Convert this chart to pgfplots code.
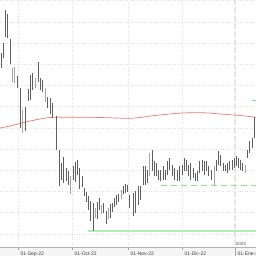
\documentclass[border=0pt]{standalone}
\usepackage{pgfplots}
\usepackage{pgfplotstable}
\pgfplotsset{compat=1.18}
\usepackage{fontspec}
\setmainfont{Liberation Sans}
\definecolor{darkbar}{RGB}{95,95,95}
\definecolor{lightbar}{RGB}{165,165,165}
\definecolor{smared}{RGB}{240,120,120}
\definecolor{grn}{RGB}{175,242,175}
\definecolor{grnd}{RGB}{140,230,140}
\definecolor{gridc}{RGB}{225,225,225}
\pgfplotstableread{
x lo hi
1 -68 -53
3 -58 -43
5.3 -37 -10
7.5 -38 -14
10 -64 -39
17 -88 -76
20 -128 -88
25 -131 -107
28 -101 -89
30 -100 -75
32.5 -90 -73
38 -82 -62
40 -90 -78
42.5 -92 -80
47.5 -108 -97
50 -114 -98
52.5 -118 -103
56.5 -150 -116
59 -186 -150
61 -180 -163
63.5 -183 -157
66 -181 -168
68 -185 -171
73 -180 -166
75.5 -182 -162
77.5 -175 -160
79.5 -189 -168
82 -187 -176
84.5 -196 -188
86.5 -202 -192
88.5 -210 -196
90.5 -221 -201
93 -231 -203
97.5 -219 -202
99.5 -210 -198
103.5 -213 -203
106 -224 -211
110 -218 -204
112.5 -212 -203
114.5 -207 -198
116.5 -205 -195
118.5 -202 -194
123 -194 -186
125 -193 -184
127.5 -192 -185
129.7 -208 -195
133 -216 -193
135.3 -213 -191
138 -205 -186
140.7 -200 -186
143 -185 -166
145.3 -185 -166
147.3 -183 -170
152 -171 -150
154 -176 -161
156.3 -176 -163
158.7 -180 -170
160.7 -181 -170
163 -180 -166
165.3 -180 -170
167.3 -175 -161
169.7 -170 -158
172 -176 -165
174.7 -180 -168
177.3 -181 -170
179.7 -181 -166
182 -175 -165
184 -171 -158
186.3 -171 -160
188.7 -176 -165
190.7 -180 -163
193 -178 -168
195.3 -181 -173
197.3 -181 -171
199.7 -173 -161
202 -171 -160
204 -175 -161
206.3 -171 -161
208.7 -176 -166
211.3 -180 -170
216.3 -171 -160
218.7 -165 -151
220.7 -166 -155
223 -171 -163
225.3 -171 -165
227.3 -173 -163
229.7 -170 -161
232 -170 -160
234 -168 -158
236.3 -166 -156
238 -168 -158
240.7 -170 -160
242.7 -171 -163
247.3 -158 -150
249.7 -153 -141
252 -148 -138
254 -138 -117
}\darkbars
\pgfplotstableread{
x lo hi
12.5 -82 -68
14.5 -83 -67
22.5 -133 -110
35 -88 -78
45 -102 -88
70.5 -194 -176
95.5 -218 -208
101.5 -214 -205
108 -219 -208
121 -199 -190
149.7 -176 -153
214 -185 -166
245.3 -173 -165
}\lightbars
\begin{document}
\begin{tikzpicture}
\fill[gray!8] (0,-9pt) rectangle (256pt,0pt);
\begin{axis}[
  at={(0,0)}, anchor=south west,
  width=256pt, height=247pt, scale only axis,
  xmin=0, xmax=256, ymin=-247, ymax=0,
  axis line style={draw=none},
  xtick={18,72,128,182,235},
  xticklabels={01-Sep-22,01-Oct-22,01-Nov-22,01-Dic-22,01-Ene-23},
  xticklabel style={anchor=north west, xshift=-1pt, yshift=1pt, font=\fontsize{5}{5}\selectfont, text=black!75},
  xtick pos=left, tick align=outside, major tick length=2.5pt,
  tick style={draw=gray!70, line width=0.5pt},
  ytick={-0.8,-22,-43.2,-64.4,-85.6,-106.8,-128,-149.2,-170.4,-191.6,-212.8,-234},
  yticklabels={}, ytick style={draw=none},
  xmajorgrids, ymajorgrids,
  grid style={gridc, dotted, line width=0.6pt},
  clip=true,
]
\coordinate (bl) at (axis cs:0,-247);
\coordinate (tr) at (axis cs:256,0);
% year separator
\addplot[gray!20, line width=1.6pt, dash pattern=on 5pt off 3pt] coordinates {(235,0) (235,-247)};
% bottom axis line
\addplot[gray!60, line width=0.6pt] coordinates {(0,-247) (256,-247)};
% support lines
\addplot[grn, line width=2pt] coordinates {(88,-231.5) (256,-231.5)};
\addplot[grnd, line width=0.8pt, dash pattern=on 6pt off 4pt] coordinates {(161,-185) (256,-185)};
% moving average
\addplot[smared, line width=0.7pt, smooth] coordinates {
(0,-128) (10,-126) (20,-123.5) (30,-121) (40,-119) (50,-117.5) (60,-117.3) (90,-117.3) (110,-117.8) (128,-118.3) (140,-117.5) (150,-116) (160,-115) (175,-113.5) (190,-112.7) (205,-112.8) (220,-114) (240,-115.5) (256,-117.3)};
% bars
\addplot[draw=none, mark=none, error bars/.cd, y dir=plus, y explicit, error mark=none,
  error bar style={line width=0.85pt, color=lightbar}]
  table[x=x, y=lo, y error plus expr=\thisrow{hi}-\thisrow{lo}] {\lightbars};
\addplot[draw=none, mark=none, error bars/.cd, y dir=plus, y explicit, error mark=none,
  error bar style={line width=0.85pt, color=darkbar}]
  table[x=x, y=lo, y error plus expr=\thisrow{hi}-\thisrow{lo}] {\darkbars};
% last price marker
\addplot[cyan!50, line width=0.8pt] coordinates {(252,-100) (256,-100)};
\node[anchor=south west, inner sep=0.3pt, font=\fontsize{4.5}{4.5}\selectfont, text=black!70] at (axis cs:235.3,-246.5) {2023};
\end{axis}
\draw[gray!70, line width=0.6pt] (235pt,0) -- (235pt,-9pt);
\pgfresetboundingbox
\useasboundingbox ([yshift=-9pt]bl) rectangle (tr);
\end{tikzpicture}
\end{document}
